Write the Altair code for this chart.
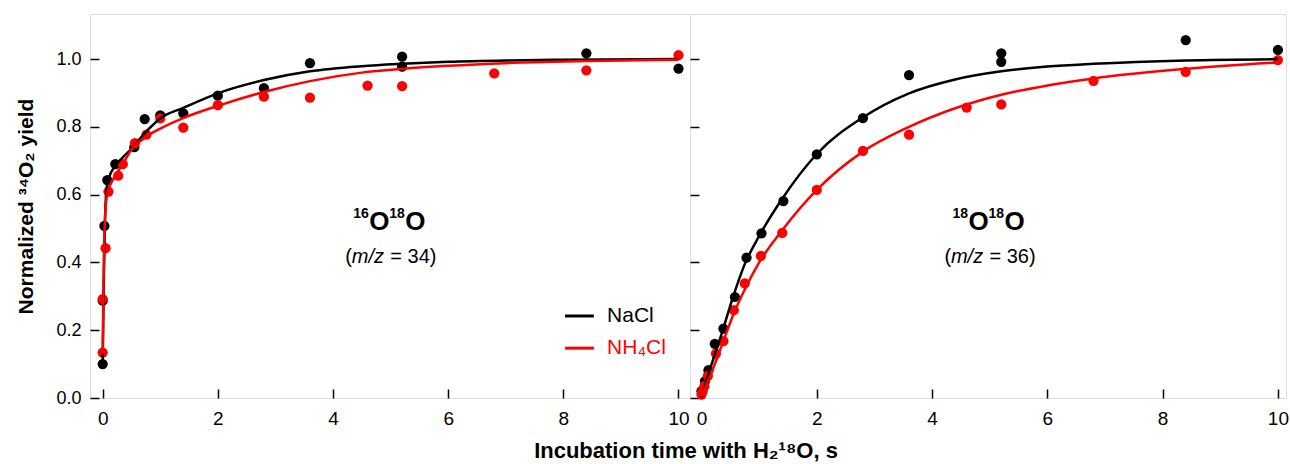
import altair as alt
import pandas as pd

FONT = "Liberation Sans"

# ---------------- Left panel: 16O18O (m/z = 34) ----------------
L_nacl_t = [0.0, 0.0, 0.03, 0.08, 0.22, 0.55, 0.73, 1.0, 1.4, 2.0, 2.8, 3.6, 5.2, 5.2, 8.4, 10.0]
L_nacl_y = [0.10, 0.287, 0.508, 0.643, 0.69, 0.74, 0.823, 0.834, 0.84, 0.892, 0.914, 0.988, 1.007, 0.978, 1.017, 0.972]
L_nh4_t = [0.0, 0.0, 0.05, 0.1, 0.27, 0.35, 0.56, 0.76, 1.0, 1.4, 2.0, 2.8, 3.6, 4.6, 5.2, 6.8, 8.4, 10.0]
L_nh4_y = [0.134, 0.292, 0.442, 0.609, 0.656, 0.69, 0.752, 0.777, 0.825, 0.798, 0.864, 0.889, 0.886, 0.922, 0.92, 0.958, 0.967, 1.012]

# fitted curves
L_fit_nacl_t = [0.0, 0.02, 0.04, 0.07, 0.12, 0.2, 0.35, 0.5, 0.75, 1.0, 1.4, 2.0, 2.8, 3.6, 4.5, 5.2, 6.0, 7.0, 8.0, 10.0]
L_fit_nacl_y = [0.10, 0.35, 0.52, 0.62, 0.655, 0.68, 0.71, 0.735, 0.785, 0.825, 0.856, 0.899, 0.938, 0.964, 0.979, 0.986, 0.992, 0.996, 0.998, 1.0]
L_fit_nh4_t = [0.0, 0.02, 0.05, 0.09, 0.15, 0.25, 0.35, 0.5, 0.75, 1.0, 1.4, 2.0, 2.8, 3.6, 4.5, 5.2, 6.0, 7.0, 8.4, 10.0]
L_fit_nh4_y = [0.13, 0.40, 0.56, 0.61, 0.635, 0.665, 0.69, 0.733, 0.77, 0.795, 0.826, 0.862, 0.903, 0.935, 0.96, 0.971, 0.98, 0.988, 0.994, 0.998]

# ---------------- Right panel: 18O18O (m/z = 36) ----------------
R_nacl_t = [0.0, 0.06, 0.12, 0.23, 0.38, 0.58, 0.78, 1.04, 1.42, 2.0, 2.8, 3.6, 5.2, 5.2, 8.4, 10.0]
R_nacl_y = [0.02, 0.05, 0.082, 0.16, 0.205, 0.298, 0.414, 0.486, 0.581, 0.719, 0.826, 0.953, 1.017, 0.992, 1.056, 1.027]
R_nh4_t = [0.0, 0.02, 0.05, 0.11, 0.25, 0.38, 0.56, 0.75, 1.03, 1.4, 2.0, 2.8, 3.6, 4.6, 5.2, 6.8, 8.4, 10.0]
R_nh4_y = [0.01, 0.02, 0.035, 0.065, 0.131, 0.168, 0.259, 0.338, 0.419, 0.487, 0.614, 0.729, 0.777, 0.857, 0.866, 0.936, 0.962, 0.997]

R_fit_nacl_t = [0.0, 0.12, 0.35, 0.55, 0.75, 1.0, 1.4, 2.0, 2.8, 3.6, 4.4, 5.2, 6.0, 6.8, 8.4, 10.0]
R_fit_nacl_y = [0.0, 0.07, 0.19, 0.30, 0.395, 0.478, 0.588, 0.72, 0.828, 0.899, 0.94, 0.964, 0.978, 0.986, 0.996, 1.0]
R_fit_nh4_t = [0.0, 0.15, 0.35, 0.55, 0.75, 1.0, 1.4, 2.0, 2.8, 3.6, 4.4, 5.2, 6.0, 6.8, 8.4, 10.0]
R_fit_nh4_y = [0.005, 0.065, 0.155, 0.245, 0.32, 0.40, 0.495, 0.614, 0.727, 0.80, 0.855, 0.895, 0.922, 0.943, 0.971, 0.99]

SERIES = ["NaCl", "NH4Cl"]
COLORS = ["#000000", "#ff0000"]
X_TICKS = [0, 2, 4, 6, 8, 10]
Y_TICKS = [0.0, 0.2, 0.4, 0.6, 0.8, 1.0]
X_TITLE = "Incubation time with H₂¹⁸O, s"
Y_TITLE = "Normalized ³⁴O₂ yield"


def frame(t1, y1, t2, y2):
    return pd.concat([
        pd.DataFrame({"t": t1, "y": y1, "series": SERIES[0]}),
        pd.DataFrame({"t": t2, "y": y2, "series": SERIES[1]}),
    ], ignore_index=True)


def panel(pts, crv, xdom, width, left, sup1, mz, legend):
    xs = alt.Scale(domain=xdom, nice=False, zero=False)
    ys = alt.Scale(domain=[0, 1.133], nice=False, zero=False)
    cs = alt.Scale(domain=SERIES, range=COLORS)
    xax = alt.Axis(values=X_TICKS, format="d", title=None, domain=False, grid=False, offset=-9,
                   tickSize=9, tickWidth=1.5, tickColor="black", labelPadding=11,
                   labelFontSize=19, labelColor="black", labelFont=FONT)
    yax = alt.Axis(values=Y_TICKS, format=".1f",
                   title=Y_TITLE if left else None,
                   labels=left, domain=False, grid=False, offset=-9, tickSize=9,
                   tickWidth=1.5, tickColor="black", labelPadding=9, labelFontSize=18,
                   labelColor="black", labelFont=FONT, titleFont=FONT,
                   titleFontSize=21, titleFontWeight="bold", titleColor="black",
                   titlePadding=19)
    points = alt.Chart(pts).mark_circle(size=105, opacity=1).encode(
        x=alt.X("t:Q", scale=xs, axis=xax),
        y=alt.Y("y:Q", scale=ys, axis=yax),
        color=alt.Color("series:N", scale=cs, legend=None),
    )
    lines = alt.Chart(crv).mark_line(strokeWidth=2.5, interpolate="monotone").encode(
        x="t:Q", y="y:Q",
        color=alt.Color("series:N", scale=cs, legend=None),
    )
    layers = [points, lines]

    cx, cy, my = 4.96, 0.495, 0.398

    def txt(s, dx, dy, size, weight="normal", style="normal", x=cx, y=cy, align="left"):
        return alt.Chart().mark_text(text=s, dx=dx, dy=dy, fontSize=size, fontWeight=weight,
                                     fontStyle=style, align=align, baseline="alphabetic",
                                     font=FONT, color="black").encode(
            x=alt.datum(x), y=alt.datum(y))
    layers += [
        txt(sup1, -35, -12, 14, "bold"),
        txt("O", -19, 0, 26, "bold"),
        txt("18", 1, -12, 14, "bold"),
        txt("O", 17, 0, 26, "bold"),
        txt("(", -43, 0, 20, y=my),
        txt("m/z", -36.5, 0, 20, style="italic", y=my),
        txt(mz, 2, 0, 20, y=my),
    ]
    if legend:
        leg = pd.DataFrame({"t1": [8.03, 8.03], "t2": [8.53, 8.53], "y": [0.242, 0.147],
                            "lab": ["NaCl", "NH₄Cl"], "series": SERIES})
        layers.append(alt.Chart(leg).mark_rule(strokeWidth=3).encode(
            x="t1:Q", x2="t2:Q", y="y:Q",
            color=alt.Color("series:N", scale=cs, legend=None)))
        layers.append(alt.Chart(leg).mark_text(align="left", baseline="middle",
                                              fontSize=21, font=FONT).encode(
            x=alt.datum(8.76), y="y:Q", text="lab:N",
            color=alt.Color("series:N", scale=cs, legend=None)))
    else:
        # shared x-axis title, centred on the boundary between the two panels
        layers.append(txt(X_TITLE, -4, 0, 22, "bold", x=xdom[0], y=-0.178, align="center"))
    return alt.layer(*layers).properties(width=width, height=384)


left = panel(frame(L_nacl_t, L_nacl_y, L_nh4_t, L_nh4_y),
             frame(L_fit_nacl_t, L_fit_nacl_y, L_fit_nh4_t, L_fit_nh4_y),
             [-0.22, 10.2], 600, True, "16", "= 34)", True)
right = panel(frame(R_nacl_t, R_nacl_y, R_nh4_t, R_nh4_y),
              frame(R_fit_nacl_t, R_fit_nacl_y, R_fit_nh4_t, R_fit_nh4_y),
              [-0.2, 10.14], 596, False, "18", "= 36)", False)

chart = alt.hconcat(left, right, spacing=0, bounds="flush").properties(
    padding={"left": 15, "top": 13, "right": 0, "bottom": 0},
    background="white",
).configure_view(stroke="#111111", strokeWidth=2).configure(font=FONT)

chart.save("out.html", embed_options={"renderer": "svg", "actions": False})
